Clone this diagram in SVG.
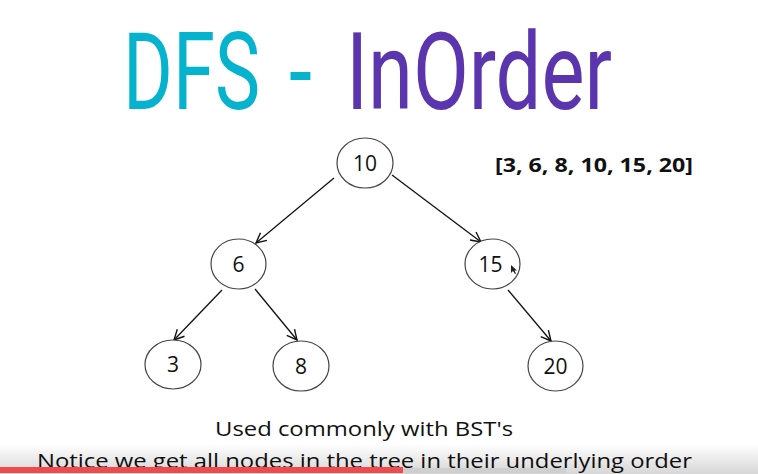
<svg xmlns="http://www.w3.org/2000/svg" width="758" height="474" viewBox="0 0 758 474">
  <defs>
    <marker id="chev" viewBox="0 0 12 12" refX="11" refY="6" markerWidth="12" markerHeight="12" markerUnits="userSpaceOnUse" orient="auto">
      <path d="M1,1 L11,6 L1,11" fill="none" stroke="#111" stroke-width="1.4"/>
    </marker>
    <linearGradient id="shade" x1="0" y1="0" x2="0" y2="1">
      <stop offset="0" stop-color="#000" stop-opacity="0"/>
      <stop offset="1" stop-color="#000" stop-opacity="0.16"/>
    </linearGradient>
    <style>
      .title { font-family: Roboto, "Liberation Sans", sans-serif; font-weight: 400; font-size: 108px; }
      .node ellipse { fill: #fff; stroke: #444; stroke-width: 1.2; }
      .node text { font-family: "Open Sans", "Noto Sans", sans-serif; font-size: 21px; fill: #111; text-anchor: middle; }
      .edge { stroke: #111; stroke-width: 1.3; fill: none; marker-end: url(#chev); }
      .body { font-family: "Open Sans", "Noto Sans", sans-serif; font-size: 20px; fill: #111; }
    </style>
  </defs>

  <rect width="758" height="474" fill="#fff"/>

  <!-- heading: condensed by horizontal scaling -->
  <g id="heading">
    <text class="title" transform="translate(123,108.5) scale(0.68,1)" fill="#06B3CF" textLength="201.5" lengthAdjust="spacingAndGlyphs">DFS</text>
    <text class="title" transform="translate(289,108.5) scale(0.7,1)" fill="#06B3CF" textLength="32.9" lengthAdjust="spacingAndGlyphs">-</text>
    <text class="title" transform="translate(346,108.5) scale(0.74,1)" fill="#5B35AD" textLength="359.5" lengthAdjust="spacingAndGlyphs">InOrder</text>
  </g>

  <!-- traversal result -->
  <text x="495" y="172" font-family="'Open Sans', 'Noto Sans', sans-serif" font-weight="bold" font-size="19.5px" fill="#111" textLength="198" lengthAdjust="spacingAndGlyphs">[3, 6, 8, 10, 15, 20]</text>

  <!-- connectors -->
  <g id="edges">
    <line class="edge" x1="334" y1="178" x2="256" y2="243"/>
    <line class="edge" x1="392" y1="175" x2="481" y2="242"/>
    <line class="edge" x1="222" y1="290" x2="174" y2="340"/>
    <line class="edge" x1="255" y1="289" x2="297" y2="340"/>
    <line class="edge" x1="508" y1="290" x2="551" y2="341"/>
  </g>

  <!-- tree nodes -->
  <g id="n10" class="node">
    <ellipse cx="365" cy="163" rx="28" ry="25"/>
    <text x="365" y="171">10</text>
  </g>
  <g id="n6" class="node">
    <ellipse cx="238.5" cy="264" rx="27.5" ry="25"/>
    <text x="238.5" y="272">6</text>
  </g>
  <g id="n15" class="node">
    <ellipse cx="492.5" cy="264" rx="27.5" ry="25"/>
    <text x="490.5" y="272">15</text>
  </g>
  <g id="n3" class="node">
    <ellipse cx="173" cy="364.5" rx="28" ry="24.5"/>
    <text x="173" y="372">3</text>
  </g>
  <g id="n8" class="node">
    <ellipse cx="301" cy="366" rx="28" ry="25"/>
    <text x="301" y="374">8</text>
  </g>
  <g id="n20" class="node">
    <ellipse cx="555.5" cy="366" rx="27.5" ry="25"/>
    <text x="555.5" y="374">20</text>
  </g>

  <!-- pointer -->
  <path d="M511,265 L511,273 L513,271 L515,274 L516,273.5 L514.5,270.5 L517,270.5 Z" fill="#222"/>

  <!-- notes -->
  <text class="body" x="215" y="436" textLength="298" lengthAdjust="spacingAndGlyphs">Used commonly with BST's</text>
  <text class="body" x="37" y="468" textLength="655" lengthAdjust="spacingAndGlyphs">Notice we get all nodes in the tree in their underlying order</text>

  <!-- player bar -->
  <rect x="0" y="444" width="758" height="30" fill="url(#shade)"/>
  <rect x="403" y="468" width="163" height="5" fill="#ccc" fill-opacity="0.8"/>
  <rect x="0" y="467" width="403" height="6" fill="#EF4B4F"/>
</svg>
